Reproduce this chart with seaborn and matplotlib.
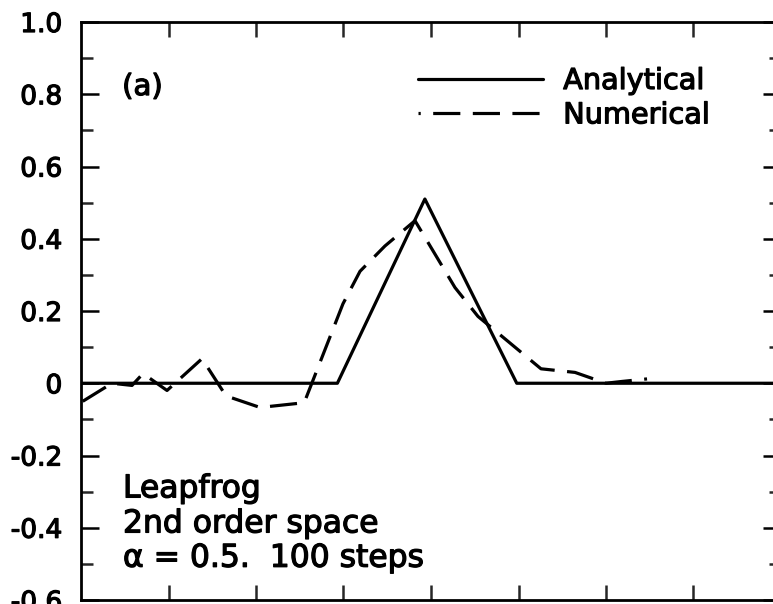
import numpy as np
import pandas as pd
import matplotlib
matplotlib.use("Agg")
import matplotlib.pyplot as plt
import matplotlib.patheffects as pe
from matplotlib.ticker import MultipleLocator, FixedLocator
import seaborn as sns

# ---- data (x in units of the x-axis tick spacing) ----
analytic_x = [0.0, 2.93, 3.93, 4.98, 8.0]
analytic_y = [0.0, 0.0, 0.51, 0.0, 0.0]

numeric_x = [0.02, 0.354, 0.583, 0.709, 0.983, 1.383, 1.657, 2.046, 2.469, 2.549,
             2.994, 3.189, 3.474, 3.817, 4.274, 4.537, 5.257, 5.646, 6.0, 6.183, 6.469]
numeric_y = [-0.05, 0.0, -0.006, 0.027, -0.02, 0.068, -0.035, -0.067, -0.056, -0.055,
             0.22, 0.31, 0.38, 0.45, 0.265, 0.185, 0.04, 0.03, 0.0, 0.005, 0.012]

ytick_vals = [-0.6, -0.4, -0.2, 0.0, 0.2, 0.4, 0.6, 0.8, 1.0]
ytick_labels = ["-0.6", "-0.4", "-0.2", "0", "0.2", "0.4", "0.6", "0.8", "1.0"]
xtick_vals = [1, 2, 3, 4, 5, 6, 7]

series_names = ["Analytical", "Numerical"]
panel_label = "(a)"
info_lines = ["Leapfrog", "2nd order space", "\u03b1 = 0.5.  100 steps"]

# ---- styling ----
sns.set_theme(style="ticks")
plt.rcParams["font.family"] = ["DejaVu Sans"]
plt.rcParams["axes.unicode_minus"] = False

heavy = [pe.withStroke(linewidth=0.9, foreground="black")]

W, H = 773, 604
fig = plt.figure(figsize=(W / 100, H / 100), dpi=100)
fig.patch.set_facecolor("white")
ax = fig.add_axes([81 / W, 1 - 600 / H, 700 / W, 578 / H])
ax.set_facecolor("white")

df_a = pd.DataFrame({"x": analytic_x, "y": analytic_y})
df_n = pd.DataFrame({"x": numeric_x, "y": numeric_y})

lw = 2.3
sns.lineplot(data=df_a, x="x", y="y", ax=ax, color="black", lw=lw,
             label=series_names[0], sort=False, estimator=None)
sns.lineplot(data=df_n, x="x", y="y", ax=ax, color="black", lw=lw,
             linestyle=(0, (8.5, 3.9)), label=series_names[1], sort=False, estimator=None)

ax.set_xlim(0, 8)
ax.set_ylim(-0.6, 1.0)
ax.set_xlabel("")
ax.set_ylabel("")

ax.yaxis.set_major_locator(FixedLocator(ytick_vals))
ax.set_yticklabels(ytick_labels)
ax.yaxis.set_minor_locator(MultipleLocator(0.1))
ax.xaxis.set_major_locator(FixedLocator(xtick_vals))
ax.set_xticklabels([])

for s in ax.spines.values():
    s.set_linewidth(2.0)
    s.set_color("black")

ax.tick_params(axis="y", which="major", direction="in", length=13, width=1.8,
               left=True, right=True, labelsize=19, pad=13.5, colors="black")
ax.tick_params(axis="y", which="minor", direction="in", length=8.5, width=1.8,
               left=True, right=True)
ax.tick_params(axis="x", which="major", direction="in", length=11, width=1.8,
               top=True, bottom=True, labelbottom=False)
for lab in ax.get_yticklabels():
    lab.set_color("black")
    lab.set_path_effects(heavy)

leg = ax.legend(loc="upper left", bbox_to_anchor=((418 - 81) / 700, 1 - (67 - 22) / 578),
                frameon=False, fontsize=20.7, handlelength=4.35, handletextpad=0.7,
                labelspacing=0.22, borderpad=0, borderaxespad=0)
for t in leg.get_texts():
    t.set_color("black")
    t.set_path_effects(heavy)
lines = leg.get_lines()
lines[1].set_linestyle((7.8, (8.5, 3.9)))

ax.text(0.47, 0.82, panel_label, fontsize=21, va="center", ha="left", color="black",
        path_effects=heavy)
ys = [-0.316, -0.413, -0.508]
for txt, yv in zip(info_lines, ys):
    ax.text(0.48, yv, txt, fontsize=22.6, va="baseline", ha="left", color="black",
            path_effects=heavy)

fig.savefig("out.png", dpi=100, facecolor="white")
